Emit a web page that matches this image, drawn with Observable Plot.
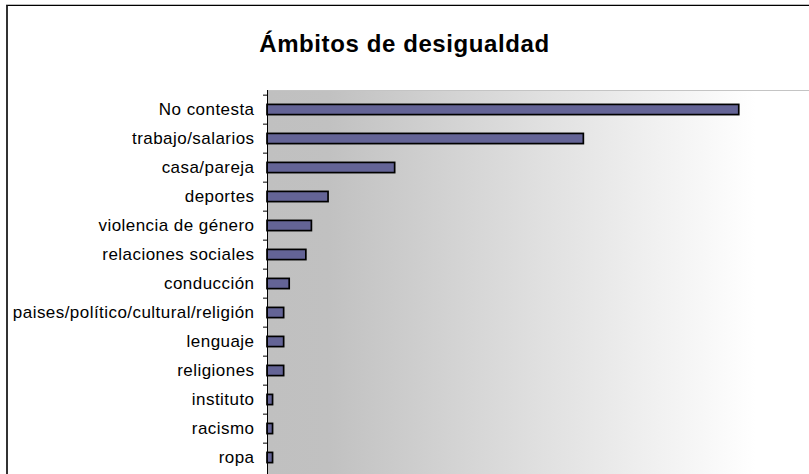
<!DOCTYPE html>
<html><head><meta charset="utf-8">
<script src="https://cdn.jsdelivr.net/npm/d3@7"></script>
<script src="https://cdn.jsdelivr.net/npm/@observablehq/plot@0.6"></script>
<style>
html,body{margin:0;padding:0;background:#fff;overflow:hidden;width:809px;height:474px;}
#chart{position:absolute;left:0;top:0;}
#frame{position:absolute;left:6px;top:5px;width:900px;height:600px;border-left:2px solid #333;border-top:1px solid #000;box-shadow:0 -1px 0 #bbb;}
#title{position:absolute;left:0;width:809px;top:32px;text-align:center;font:bold 24px "Liberation Sans",Arial,sans-serif;line-height:24px;letter-spacing:0.6px;color:#000;}
</style></head><body>
<div id="chart"></div>
<div id="frame"></div>
<div id="title">Ámbitos de desigualdad</div>
<script>
const categories = ["No contesta","trabajo/salarios","casa/pareja","deportes","violencia de género","relaciones sociales","conducción","paises/político/cultural/religión","lenguaje","religiones","instituto","racismo","ropa"];
const values = [85,57,23,11,8,7,4,3,3,3,1,1,1];
const xDomain = [0,100];

const data = categories.map((c,i)=>({cat:c, val:values[i]}));
const width = 822, height = 476, marginTop = 90, marginBottom = 0, marginLeft = 267, marginRight = 0;
const step = (height - marginTop - marginBottom) / categories.length;

const chart = Plot.plot({
  width, height, marginTop, marginBottom, marginLeft, marginRight,
  style:{fontFamily:'"Liberation Sans", Arial, sans-serif', fontSize:"17px", letterSpacing:"0.45px", color:"#000", background:"transparent", maxWidth:"none", overflow:"visible"},
  x:{domain:xDomain, axis:null},
  y:{domain:categories, padding:0, axis:null},
  marks:[
    Plot.frame({fill:"url(#bggrad)", stroke:"#c4c4c4"}),
    Plot.barX(data, {x:"val", y:"cat", fill:"#646496", stroke:"#000", strokeWidth:1.7, insetTop:9.4, insetBottom:9.4}),
    Plot.ruleX([0], {stroke:"#000", strokeWidth:1}),
    Plot.axisY({tickSize:0, tickPadding:13, fontSize:17, label:null}),
    Plot.axisY({tickSize:4, tickFormat:null, label:null, dy:-step/2, stroke:"#000"})
  ]
});

const ns = "http://www.w3.org/2000/svg";
const defs = document.createElementNS(ns,"defs");
const lg = document.createElementNS(ns,"linearGradient");
lg.setAttribute("id","bggrad");
lg.setAttribute("x1","0"); lg.setAttribute("x2","1"); lg.setAttribute("y1","0"); lg.setAttribute("y2","0");
[["0%","#c0c0c0"],["11%","#c1c1c1"],["88%","#ffffff"],["100%","#ffffff"]].forEach(([o,c])=>{
  const s = document.createElementNS(ns,"stop");
  s.setAttribute("offset",o); s.setAttribute("stop-color",c);
  lg.appendChild(s);
});
defs.appendChild(lg);
chart.insertBefore(defs, chart.firstChild);
document.getElementById("chart").appendChild(chart);
</script>
</body></html>
